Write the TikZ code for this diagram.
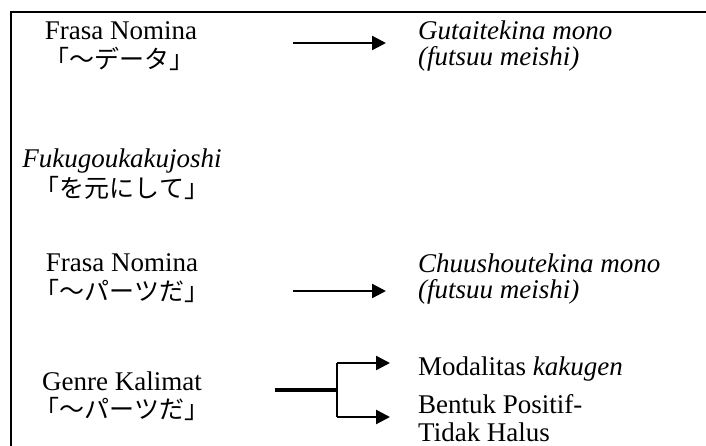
\documentclass[tikz,border=0pt]{standalone}
\usepackage{fontspec}
\setmainfont{Liberation Serif}
\newfontfamily\jp{Noto Sans CJK JP}
\usetikzlibrary{arrows.meta}
\begin{document}
\begin{tikzpicture}[x=1pt,y=-1pt,
  lat/.style={inner sep=0pt,font=\fontsize{27}{30}\selectfont},
  lc/.style={lat,anchor=base},
  rc/.style={lat,anchor=base west},
  jc/.style={inner sep=0pt,anchor=base,font=\fontsize{25}{28}\selectfont\jp},
  arr/.style={line width=2.4pt,-{Triangle[length=14pt,width=14pt]}},
  thick line/.style={line width=3.2pt}]
\useasboundingbox (0,0) rectangle (706,446);
% frame
\draw[line width=2.2pt] (11,446) -- (11,12) -- (706,12);
% row 1
\node[lc] (fn1) at (121,40) {Frasa Nomina};
\node[jc] (dt1) at (119,69) {「～データ」};
\node[rc] (gm1) at (418,40) {\itshape Gutaitekina mono};
\node[rc] (fm1) at (418,66) {\itshape (futsuu meishi)};
\coordinate (a1s) at (293,43);
\coordinate (a1e) at (386,43);
\draw[arr] (a1s) -- (a1e);
% row 2
\node[lc] (fk) at (122,168) {\itshape Fukugoukakujoshi};
\node[jc] (mt) at (122,198) {「を元にして」};
% row 3
\node[lc] (fn2) at (122,271) {Frasa Nomina};
\node[jc] (pd1) at (122,300) {「～パーツだ」};
\node[rc] (cm) at (418,272) {\itshape Chuushoutekina mono};
\node[rc] (fm2) at (418,298) {\itshape (futsuu meishi)};
\coordinate (a2s) at (293,291);
\coordinate (a2e) at (386,291);
\draw[arr] (a2s) -- (a2e);
% row 4
\node[lc] (gk) at (122,390) {Genre Kalimat};
\node[jc] (pd2) at (122,418) {「～パーツだ」};
\node[rc] (mk) at (418,375) {Modalitas \textit{kakugen}};
\node[rc] (bp) at (418,413) {Bentuk Positif-};
\node[rc] (th) at (418,441) {Tidak Halus};
\coordinate (bs) at (275,390);
\coordinate (bj) at (337,390);
\coordinate (bt) at (337,363);
\coordinate (bb) at (337,417);
\coordinate (bte) at (390,363);
\coordinate (bbe) at (390,417);
\draw[thick line] (bs) -- (bj);
\draw[line width=2.2pt] (bt) -- (bb);
\draw[arr] (bt) -- (bte);
\draw[arr] (bb) -- (bbe);
\end{tikzpicture}
\end{document}
